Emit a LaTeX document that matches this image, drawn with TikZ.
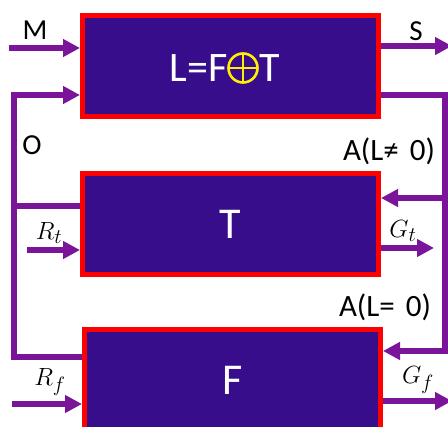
\documentclass[tikz,border=0pt]{standalone}
\usepackage{fontspec}
\setmainfont{Carlito}
\usetikzlibrary{arrows.meta}
\definecolor{boxfill}{RGB}{55,13,140}
\definecolor{boxred}{RGB}{255,0,0}
\definecolor{wire}{RGB}{122,20,152}
\definecolor{oplus}{RGB}{255,240,0}
\tikzset{
  blk/.style={draw=boxred, line width=5pt, fill=boxfill, minimum width=296pt, minimum height=101pt, inner sep=0pt, text=white, font=\fontsize{44}{48}\selectfont},
  formula/.style={inner sep=0pt, text=white, font=\fontsize{42}{46}\selectfont},
  wireline/.style={draw=wire, line width=5.5pt},
  arr/.style={wireline, -{Triangle[length=17pt,width=17pt]}},
  lbl/.style={inner sep=0pt, font=\fontsize{29}{32}\selectfont},
  albl/.style={inner sep=0pt, font=\fontsize{31}{34}\selectfont},
  mlbl/.style={inner sep=0pt, font=\fontsize{31}{34}\selectfont},
}
\begin{document}
\begin{tikzpicture}[x=1pt,y=-1pt]
\path[use as bounding box] (0,0) rectangle (448,427);
\clip (0,0) rectangle (448,427);
% boxes
\node[blk] (top) at (230.5,66) {};
\node[blk] (tbox) at (230.5,224) {T};
\node[blk] (fbox) at (232.5,380) {F};
% top formula
\node[formula, anchor=base east] (lf) at (228,82) {L=F};
\coordinate (oc) at (243,68);
\draw[oplus, line width=2.6pt] (oc) circle (14.5pt);
\draw[oplus, line width=2.6pt] ([xshift=-14.5pt]oc) -- ([xshift=14.5pt]oc) ([yshift=-14.5pt]oc) -- ([yshift=14.5pt]oc);
\node[formula, anchor=base west] (tt) at (259,82) {T};
% coordinates
\coordinate (m) at (9,48);
\coordinate (s) at (452,46);
\coordinate (ltop) at (14,95);
\coordinate (lbot) at (14,357);
\coordinate (lmid) at (14,206);
\coordinate (rtop) at (445,95);
\coordinate (rbot) at (445,351);
\coordinate (rmid) at (445,198);
\coordinate (rt) at (27,250);
\coordinate (gt) at (434,248);
\coordinate (rf) at (12,404);
\coordinate (gf) at (452,401);
% arrows
\draw[arr] (m) -- (top.west |- m);
\draw[arr] (top.east |- s) -- (s);
\draw[arr] (fbox.west |- lbot) -- (lbot) -- (ltop) -- (top.west |- ltop);
\draw[wireline] (tbox.west |- lmid) -- (lmid);
\draw[arr] (top.east |- rtop) -- (rtop) -- (rbot) -- (fbox.east |- rbot);
\draw[arr] (rmid) -- (tbox.east |- rmid);
\draw[arr] (rt) -- (tbox.west |- rt);
\draw[arr] (tbox.east |- gt) -- (gt);
\draw[arr] (rf) -- (fbox.west |- rf);
\draw[arr] (fbox.east |- gf) -- (gf);
% labels
\node[lbl] (lm) at (35,30) {M};
\node[lbl] (ls) at (416,31) {S};
\node[lbl] (lo) at (32,145) {O};
\node[albl] (la1) at (389,151) {A(L≠\hspace{4pt} 0)};
\node[albl] (la2) at (385,307) {A(L=\hspace{4pt} 0)};
\node[mlbl] (lrt) at (49,233) {$R_t$};
\node[mlbl] (lgt) at (403,231) {$G_t$};
\node[mlbl] (lrf) at (50,382) {$R_f$};
\node[mlbl] (lgf) at (418,380) {$G_f$};
\end{tikzpicture}
\end{document}
